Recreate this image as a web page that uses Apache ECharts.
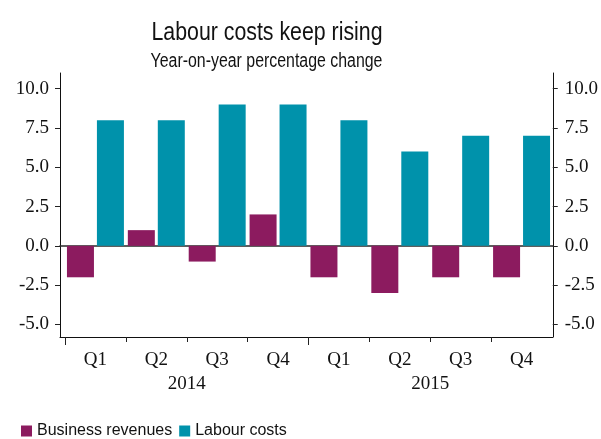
<!DOCTYPE html>
<html>
<head>
<meta charset="utf-8">
<title>Labour costs keep rising</title>
<script src="https://cdn.jsdelivr.net/npm/echarts@6/dist/echarts.min.js"></script>
<style>
  html, body { margin: 0; padding: 0; background: #fff; }
  #chart { width: 601px; height: 439px; }
</style>
</head>
<body>
<div id="chart"></div>
<script>
// Quarterly series, year-on-year % change
const quarters = ['Q1', 'Q2', 'Q3', 'Q4', 'Q1', 'Q2', 'Q3', 'Q4'];
const years = ['2014', '2015'];
const businessRevenues = [-2, 1, -1, 2, -2, -3, -2, -2];
const labourCosts = [8, 8, 9, 9, 8, 6, 7, 7];

// Axis ticks
const yTicks = [-5, -2.5, 0, 2.5, 5, 7.5, 10];
const quarterTicks = [1, 2, 3, 5, 6, 7];   // short ticks between quarters
const yearTicks = [0, 4];                  // longer ticks where a year starts

const Y_MIN = -5.8, Y_MAX = 11;
const SANS = '"Liberation Sans", Arial, sans-serif';
const SERIF = '"Liberation Serif", "DejaVu Serif", serif';
const INK = '#121212';

const chart = echarts.init(document.getElementById('chart'), null, { renderer: 'canvas' });

const hiddenLabel = { show: false };
const noTick = { show: false };

chart.setOption({
  animation: false,
  backgroundColor: '#ffffff',
  // Headline and standfirst, squeezed horizontally to a condensed look
  graphic: [
    {
      type: 'text', x: 267, y: 33, scaleX: 0.82, silent: true,
      style: {
        text: 'Labour costs keep rising', fill: INK,
        font: '26px ' + SANS, align: 'center', verticalAlign: 'middle'
      }
    },
    {
      type: 'text', x: 266.5, y: 61.5, scaleX: 0.815, silent: true,
      style: {
        text: 'Year-on-year percentage change', fill: INK,
        font: '19.5px ' + SANS, align: 'center', verticalAlign: 'middle'
      }
    }
  ],
  legend: {
    left: 21,
    top: 423,
    padding: 0,
    icon: 'rect',
    itemWidth: 11,
    itemHeight: 11,
    itemGap: 7,
    textStyle: { fontFamily: SANS, fontSize: 16, color: INK },
    data: ['Business revenues', 'Labour costs']
  },
  grid: [
    // bars
    { left: 65, right: 49, top: 73, bottom: 102 },
    // frame: axis lines, zero line, y labels
    { left: 60, right: 48, top: 73, bottom: 102 }
  ],
  xAxis: [
    {
      gridIndex: 0, type: 'category', position: 'bottom', data: quarters,
      axisLine: { show: false, onZero: false }, axisTick: noTick,
      axisLabel: { margin: 14, fontFamily: SERIF, fontSize: 19, color: INK }
    },
    {
      gridIndex: 0, type: 'category', position: 'bottom', data: years,
      axisLine: { show: false, onZero: false }, axisTick: noTick,
      axisLabel: { margin: 38, fontFamily: SERIF, fontSize: 19, color: INK }
    },
    {
      gridIndex: 0, type: 'value', position: 'bottom', min: 0, max: 8,
      axisLine: { show: false, onZero: false }, splitLine: { show: false }, axisLabel: hiddenLabel,
      axisTick: { show: true, length: 5, customValues: quarterTicks, lineStyle: { color: '#222', width: 1 } }
    },
    {
      gridIndex: 0, type: 'value', position: 'bottom', min: 0, max: 8,
      axisLine: { show: false, onZero: false }, splitLine: { show: false }, axisLabel: hiddenLabel,
      axisTick: { show: true, length: 8, customValues: yearTicks, lineStyle: { color: '#222', width: 1 } }
    },
    {
      // bottom frame line
      gridIndex: 1, type: 'value', position: 'bottom', min: 0, max: 1,
      axisLine: { show: true, onZero: false, lineStyle: { color: '#111', width: 1 } },
      axisTick: noTick, axisLabel: hiddenLabel, splitLine: { show: false }
    },
    {
      // zero line
      gridIndex: 1, type: 'value', position: 'bottom', min: 0, max: 1,
      axisLine: { show: true, onZero: true, lineStyle: { color: '#2a2a2a', width: 1.5 } },
      axisTick: noTick, axisLabel: hiddenLabel, splitLine: { show: false }
    }
  ],
  yAxis: [
    {
      gridIndex: 0, type: 'value', min: Y_MIN, max: Y_MAX, show: false,
      axisLine: { onZero: false }, splitLine: { show: false }
    },
    {
      gridIndex: 1, type: 'value', position: 'left', min: Y_MIN, max: Y_MAX,
      axisLine: { show: true, onZero: false, lineStyle: { color: '#111', width: 1 } },
      axisTick: { show: true, length: 5, customValues: yTicks, lineStyle: { color: '#222' } },
      axisLabel: {
        customValues: yTicks, margin: 11, fontFamily: SERIF, fontSize: 19, color: INK,
        formatter: v => v.toFixed(1)
      },
      splitLine: { show: false }
    },
    {
      gridIndex: 1, type: 'value', position: 'right', min: Y_MIN, max: Y_MAX,
      axisLine: { show: true, onZero: false, lineStyle: { color: '#111', width: 1 } },
      axisTick: { show: true, length: 5, customValues: yTicks, lineStyle: { color: '#222' } },
      axisLabel: {
        customValues: yTicks, margin: 12, fontFamily: SERIF, fontSize: 19, color: INK,
        formatter: v => v.toFixed(1)
      },
      splitLine: { show: false }
    }
  ],
  series: [
    {
      name: 'Business revenues',
      type: 'bar',
      xAxisIndex: 0, yAxisIndex: 0,
      data: businessRevenues,
      barWidth: 27,
      barGap: '11%',
      itemStyle: { color: '#8c1b5f' },
      z: 3
    },
    {
      name: 'Labour costs',
      type: 'bar',
      xAxisIndex: 0, yAxisIndex: 0,
      data: labourCosts,
      barWidth: 27,
      barGap: '11%',
      itemStyle: { color: '#0092ab' },
      z: 3
    }
  ]
});
</script>
</body>
</html>
